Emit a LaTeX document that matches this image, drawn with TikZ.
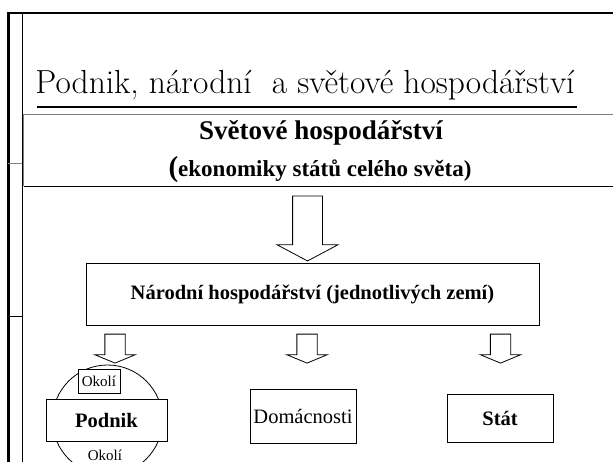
\documentclass[tikz,border=0pt]{standalone}
\usepackage{fontspec}
\newfontfamily\timesfont{Liberation Serif}
\usetikzlibrary{shapes.arrows}

\tikzset{
    box/.style={draw, fill=white, line width=1pt, inner sep=0pt, font=\timesfont\fontsize{20.5}{24}\selectfont},
    blockarrow/.style={single arrow, draw, fill=white, line width=0.8pt, rotate=-90, inner xsep=0pt, single arrow head indent=0pt},
    smallarrow/.style={blockarrow, minimum height=29pt, inner ysep=9.75pt, single arrow head extend=10pt, single arrow tip angle=135},
}

\begin{document}
\begin{tikzpicture}[x=1pt, y=-1pt]
    \clip (0,0) rectangle (613,462);
    \fill[white] (0,0) rectangle (613,462);
    \draw [line width=3pt] (8,462) -- (8,13);
    \draw [line width=2.3pt] (6.5,13) -- (613,13);
    \draw [line width=0.8pt] (22,13) -- (22,462);
    \draw [gray, line width=0.8pt] (8,163) -- (22,163);
    \draw [line width=0.8pt] (8,316) -- (22,316);

    \node[anchor=base, inner sep=0pt, font=\fontsize{33.4}{40}\selectfont] (title) at (305,94) {Podnik, národní~ a světové hospodářství};
    \draw [line width=1.3pt] (37,107) -- (577,107);

    \node[minimum width=592pt, minimum height=71pt, inner sep=0pt] (svet) at (320,150.5) {};
    \draw [gray, line width=1pt] (svet.south west) -- (svet.north west) -- (svet.north east);
    \draw [line width=1pt] (svet.south west) -- (svet.south east);
    \node[anchor=base, inner sep=0pt, font=\timesfont\bfseries\fontsize{27}{32}\selectfont] (svetname) at (321,140) {Světové hospodářství};
    \node[anchor=base, inner sep=0pt, font=\timesfont\bfseries\fontsize{23}{28}\selectfont] (svetsub) at (320,177) {{\fontsize{29}{30}\selectfont(}ekonomiky států celého světa)};

    \node[blockarrow, minimum height=65pt, inner ysep=14.5pt, single arrow head extend=15.5pt, single arrow tip angle=124] (bigarrow) at (307.5,224.5) {};

    \node[box, minimum width=453pt, minimum height=61pt] (narodni) at (312.5,294.5) {\bfseries Národní hospodářství (jednotlivých zemí)};

    \node[smallarrow] (arrpodnik) at (115,346.5) {};
    \node[smallarrow] (arrdomac) at (307,346.5) {};
    \node[smallarrow] (arrstat) at (500.5,346.5) {};

    \node[circle, draw, line width=0.8pt, minimum size=110pt, inner sep=0pt] (okoli) at (107.5,420) {};
    \node[box, line width=0.8pt, font=\timesfont\fontsize{15}{18}\selectfont, minimum width=42pt, minimum height=24pt] (okolitop) at (99,381) {Okolí};
    \node[box, minimum width=121pt, minimum height=42pt] (podnik) at (106.5,420) {\bfseries Podnik};
    \node[anchor=base, inner sep=0pt, font=\timesfont\fontsize{15}{18}\selectfont] (okolibottom) at (105,460) {Okolí};

    \node[box, minimum width=106pt, minimum height=54pt] (domacnosti) at (303,416) {Domácnosti};
    \node[box, minimum width=106pt, minimum height=48pt] (stat) at (500,418) {\bfseries Stát};
\end{tikzpicture}
\end{document}
